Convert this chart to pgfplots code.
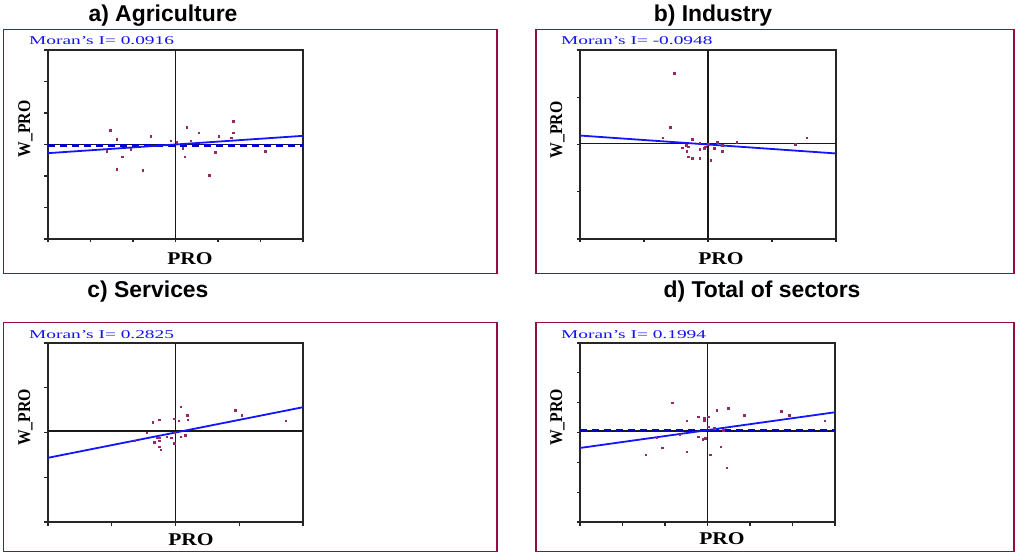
\documentclass[border=0pt]{standalone}
\usepackage{pgfplots}
\pgfplotsset{compat=1.18}
\usepackage{fontspec}
\setmainfont{Liberation Serif}
\newfontfamily\sansf{Liberation Sans}
\definecolor{framecol}{RGB}{150,10,70}
\definecolor{ptcol}{RGB}{150,40,100}
\definecolor{regblue}{RGB}{20,20,255}
\definecolor{moranblue}{RGB}{20,20,240}
\definecolor{dashblue}{RGB}{0,0,200}

\pgfplotstableread{
x y
-1.54 0.46
-1.38 0.17
-1.62 -0.21
-1.25 -0.39
-1.05 -0.15
-1.38 -0.78
-0.77 -0.82
-0.58 0.27
-0.11 0.12
0.03 0.07
0.26 0.55
0.36 0.12
0.17 -0.12
0.22 -0.39
0.55 0.37
0.93 -0.25
0.79 -0.97
1.02 0.27
1.36 0.74
1.36 0.37
1.31 0.22
2.11 -0.21
}\agri

\pgfplotstableread{
x y
-0.53 1.51
-0.59 0.36
-0.71 0.14
-0.25 0.11
-0.40 -0.07
-0.34 -0.01
-0.33 -0.14
-0.31 -0.05
-0.31 -0.26
-0.25 -0.29
-0.13 -0.10
-0.13 0.04
-0.13 -0.29
-0.06 -0.08
-0.04 -0.05
0.00 0.00
0.04 -0.33
0.10 -0.08
0.14 0.05
0.22 -0.14
0.22 -0.01
0.45 0.05
1.36 0.00
1.54 0.14
}\indu

\pgfplotstableread{
x y
0.08 0.58
0.18 0.38
0.19 0.29
0.05 0.26
-0.26 0.29
-0.36 0.23
-0.45 0.00
-0.64 -0.18
-0.29 -0.12
-0.26 -0.12
-0.26 -0.18
-0.33 -0.22
-0.26 -0.32
-0.23 -0.38
-0.14 -0.09
-0.07 -0.12
-0.02 0.31
-0.02 0.00
-0.02 -0.24
0.08 -0.09
0.15 -0.06
0.94 0.50
1.04 0.38
1.73 0.26
}\serv

\pgfplotstableread{
x y
-0.83 1.00
-0.49 0.39
-0.22 0.53
-0.08 0.48
-0.08 0.39
0.02 0.53
0.02 0.19
0.22 0.75
0.49 0.81
0.87 0.58
1.73 0.71
1.92 0.58
2.76 0.39
0.16 0.14
-1.20 -0.17
-0.65 -0.08
-0.22 -0.14
-0.11 -0.23
-0.06 -0.19
-1.06 -0.51
-1.45 -0.74
-0.49 -0.65
0.07 -0.74
0.31 -0.48
0.45 -1.18
0.37 0.08
}\tota

\pgfplotsset{
  moranax/.style={
    scale only axis, anchor=south west,
    xticklabels={}, yticklabels={},
    tick align=outside, tick pos=left, major tick length=3.5bp,
    axis line style={line width=2bp, black!85},
    every tick/.style={black!85, line width=1.2bp},
    clip=false,
  },
  pts/.style={only marks, mark=square*, mark size=0.8bp, color=ptcol},
  zl/.style={black!90, line width=1.8bp},
  rl/.style={regblue, line width=1.8bp},
}

\newcommand{\ttl}[1]{{\sansf\bfseries\fontsize{23}{26}\selectfont #1}}
\newcommand{\moran}[1]{\scalebox{1.62}[1]{\fontsize{12}{13}\selectfont\color{moranblue}Moran's I= #1}}
\newcommand{\xl}{\scalebox{1.2}[1]{\bfseries\fontsize{18}{19}\selectfont PRO}}
\newcommand{\yl}{\scalebox{0.88}[1]{\bfseries\fontsize{18}{19}\selectfont W\_PRO}}

\begin{document}
\begin{tikzpicture}
\useasboundingbox (0,0) rectangle (1018bp,554bp);
% frames
\draw[framecol, line width=1.5bp] (3.5bp,280.7bp) rectangle (497bp,524.7bp);
\draw[framecol, line width=1.5bp] (536bp,280.7bp) rectangle (1014bp,524.7bp);
\draw[framecol, line width=1.5bp] (3.5bp,2.3bp) rectangle (497bp,231.3bp);
\draw[framecol, line width=1.5bp] (536bp,2.3bp) rectangle (1014bp,231.3bp);
% titles
\node[anchor=base] at (163bp,532bp) {\ttl{a) Agriculture}};
\node[anchor=base] at (713bp,532bp) {\ttl{b) Industry}};
\node[anchor=base] at (148bp,256.3bp) {\ttl{c) Services}};
\node[anchor=base] at (762bp,256.3bp) {\ttl{d) Total of sectors}};
% Moran labels
\node[anchor=base west, inner sep=0pt] at (29bp,509.7bp) {\moran{0.0916}};
\node[anchor=base west, inner sep=0pt] at (561bp,509bp) {\moran{-0.0948}};
\node[anchor=base west, inner sep=0pt] at (29bp,215.7bp) {\moran{0.2825}};
\node[anchor=base west, inner sep=0pt] at (561bp,215.7bp) {\moran{0.1994}};
% axis labels
\node[anchor=base, inner sep=0pt] at (190bp,289bp) {\xl};
\node[anchor=base, inner sep=0pt] at (721bp,289bp) {\xl};
\node[anchor=base, inner sep=0pt] at (191bp,8.3bp) {\xl};
\node[anchor=base, inner sep=0pt] at (722bp,10bp) {\xl};
\node[anchor=base, rotate=90, inner sep=0pt] at (30bp,425bp) {\yl};
\node[anchor=base, rotate=90, inner sep=0pt] at (562bp,424bp) {\yl};
\node[anchor=base, rotate=90, inner sep=0pt] at (30bp,136.5bp) {\yl};
\node[anchor=base, rotate=90, inner sep=0pt] at (562bp,136.5bp) {\yl};

% a) Agriculture
\begin{axis}[moranax, at={(48bp,315bp)}, width=255bp, height=189bp,
  xmin=-3, xmax=3, ymin=-3, ymax=3, xtick={-3,...,3}, ytick={-3,...,3}]
\addplot[zl] coordinates {(0,-3) (0,3)};
\addplot[zl] coordinates {(-3,0) (3,0)};
\addplot[dashblue, line width=2.4bp, dash pattern=on 7bp off 5bp] coordinates {(-3,-0.03) (3,-0.03)};
\addplot[rl] coordinates {(-3,-0.2748) (3,0.2748)};
\addplot[pts] table {\agri};
\end{axis}

% b) Industry
\begin{axis}[moranax, at={(580bp,315bp)}, width=256bp, height=189bp,
  xmin=-2, xmax=2, ymin=-2, ymax=2, xtick={-2,...,2}, ytick={-2,...,2}]
\addplot[zl] coordinates {(0,-2) (0,2)};
\addplot[zl] coordinates {(-2,0.02) (2,0.02)};
\addplot[rl] coordinates {(-2,0.1896) (2,-0.1896)};
\addplot[pts] table {\indu};
\end{axis}

% c) Services
\begin{axis}[moranax, at={(48bp,32bp)}, width=255bp, height=179bp,
  xmin=-2, xmax=2, ymin=-2, ymax=2, xtick={-2,...,2}, ytick={-2,...,2}]
\addplot[zl] coordinates {(0,-2) (0,2)};
\addplot[zl] coordinates {(-2,0.03) (2,0.03)};
\addplot[rl] coordinates {(-2,-0.565) (2,0.565)};
\addplot[pts] table {\serv};
\end{axis}

% d) Total of sectors
\begin{axis}[moranax, at={(580bp,32bp)}, width=255bp, height=179bp,
  xmin=-3, xmax=3, ymin=-3, ymax=3, xtick={-3,...,3}, ytick={-3,...,3}]
\addplot[zl] coordinates {(0,-3) (0,3)};
\addplot[zl] coordinates {(-3,0.05) (3,0.05)};
\addplot[dashblue, line width=2.4bp, dash pattern=on 7bp off 5bp] coordinates {(-3,0.08) (3,0.08)};
\addplot[rl] coordinates {(-3,-0.5182) (3,0.6782)};
\addplot[pts] table {\tota};
\end{axis}
\end{tikzpicture}
\end{document}
